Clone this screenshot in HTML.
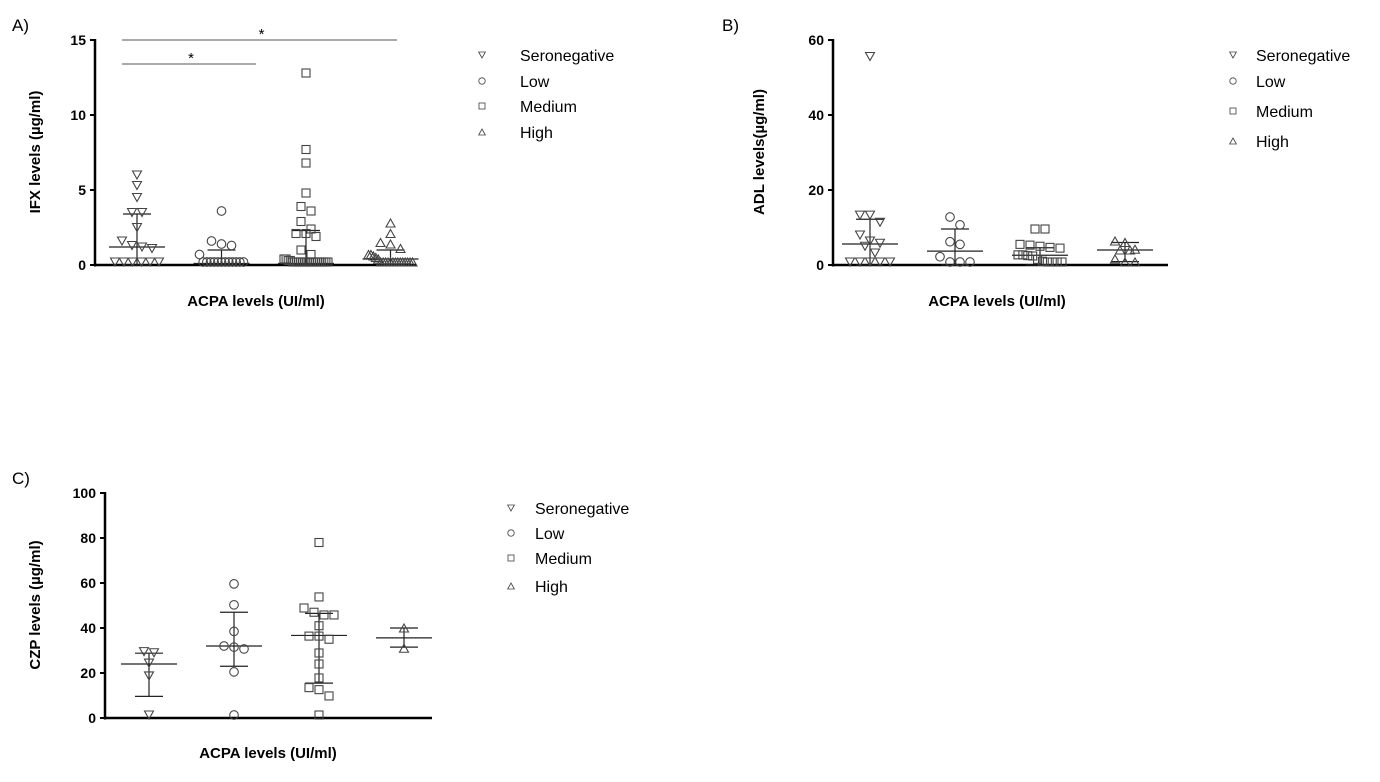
<!DOCTYPE html>
<html><head><meta charset="utf-8">
<style>
html,body{margin:0;padding:0;background:#fff;}
svg{display:block;font-family:"Liberation Sans",Arial,sans-serif;}
</style></head>
<body>
<svg id="fig" width="1380" height="782" viewBox="0 0 1380 782"></svg>
<script>
const categories = ["Seronegative","Low","Medium","High"];
// Panel A (IFX)
const ifxSero = [6.0,5.3,4.5,3.5,3.5,2.5,1.6,1.3,1.2,1.1,0.2,0.2,0,0,0,0];
const ifxLow = [3.6,1.6,1.4,1.3,0.7,0.2,0.2,0,0,0,0,0,0,0,0,0,0];
const ifxMed = [12.8,7.7,6.8,4.8,3.9,3.6,2.9,2.4,2.1,2.1,1.9,1.0,0.7,0.4,0.4,0.3,0.3,0,0,0,0,0,0,0,0,0,0,0,0,0,0,0,0,0,0];
const ifxHigh = [2.8,2.1,1.5,1.4,1.1,0.7,0.7,0.6,0.5,0.4,0.2,0.2,0,0,0,0,0,0,0,0,0,0,0,0];
const ifxCenter = [1.2,0.1,0.1,0.4];
const ifxUpper = [3.4,1.0,2.3,1.0];
const ifxLower = [0,0,0,0];
const ifxTicks = [0,5,10,15];
// Panel B (ADL)
const adlSero = [55.6,13.3,13.3,11.4,8.0,6.4,5.8,5.0,3.2,0.6,0.4,0.2,0,0];
const adlLow = [12.8,10.7,6.2,5.5,2.2,0.3,0,0];
const adlMed = [9.6,9.6,5.5,5.3,5.0,4.7,4.5,2.7,2.7,2.5,2.4,1.5,1.0,0.5,0,0,0];
const adlHigh = [6.4,6.0,4.2,4.0,4.0,1.6,0.3,0.3];
const adlCenter = [5.6,3.7,2.6,4.0];
const adlUpper = [12.2,9.6,4.6,6.0];
const adlLower = [0,0,0,0.9];
const adlTicks = [0,20,40,60];
// Panel C (CZP)
const czpSero = [29.5,29.0,24.4,18.7,1.3];
const czpLow = [59.6,50.3,38.5,32.0,31.5,30.7,20.5,1.0];
const czpMed = [78,53.8,48.9,47,45.8,45.8,41,36.4,36.4,35,28.9,24,17.8,12.6,13.5,9.8,1.0];
const czpHigh = [40,31];
const czpCenter = [24,32,36.7,35.6];
const czpUpper = [28.8,47,46.5,40];
const czpLower = [9.6,23,15.5,31.5];
const czpTicks = [0,20,40,60,80,100];
const legendLabels = ["Seronegative","Low","Medium","High"];

const NS="http://www.w3.org/2000/svg";
const svg=document.getElementById('fig');
function mk(tag,attrs,parent,text){const e=document.createElementNS(NS,tag);for(const k in attrs)e.setAttribute(k,attrs[k]);if(text!==undefined)e.textContent=text;(parent||svg).appendChild(e);return e;}

function marker(g,kind,x,y,col){
  let e;
  if(kind===0) e=mk('polygon',{points:`${x-4.5},${y-4} ${x+4.5},${y-4} ${x},${y+4}`,fill:'none',stroke:col,'stroke-width':1.1},g);
  else if(kind===1) e=mk('circle',{cx:x,cy:y,r:4.3,fill:'none',stroke:col,'stroke-width':1.1},g);
  else if(kind===2) e=mk('rect',{x:x-4,y:y-4,width:8,height:8,fill:'none',stroke:col,'stroke-width':1.1},g);
  else e=mk('polygon',{points:`${x-4.5},${y+4} ${x+4.5},${y+4} ${x},${y-4}`,fill:'none',stroke:col,'stroke-width':1.1},g);
  return e;
}

function panel(cfg){
  const g=mk('g',{},svg);
  
  
  const yS=v=>cfg.y0-(v-0)/cfg.ymax*(cfg.y0-cfg.y1);
  const xS=i=>cfg.cx0+i*cfg.dx;
  const ya=mk('line',{x1:cfg.ax,y1:cfg.y1-1,x2:cfg.ax,y2:cfg.y0+1.5,stroke:'#000','stroke-width':2.5},g);
  
  const xa=mk('line',{x1:cfg.ax-1,y1:cfg.y0,x2:cfg.xend,y2:cfg.y0,stroke:'#000','stroke-width':2.5},g);
  
  cfg.ticks.forEach(t=>{
    const y=yS(t);
    mk('line',{x1:cfg.ax-5,y1:y,x2:cfg.ax,y2:y,stroke:'#000','stroke-width':2},g);
    const tl=mk('text',{x:cfg.ax-9,y:y+5,'text-anchor':'end','font-size':14,'font-weight':'bold'},g,String(t));
    
  });
  const yt=mk('text',{x:0,y:0,transform:`translate(${cfg.ytx},${cfg.yty}) rotate(-90)`,'text-anchor':'middle','font-size':15,'font-weight':'bold'},g,cfg.ytitle);
  
  const xt=mk('text',{x:cfg.xtx,y:cfg.xty,'text-anchor':'middle','font-size':15,'font-weight':'bold'},g,'ACPA levels (UI/ml)');
  
  const pl=mk('text',{x:cfg.plx,y:cfg.ply,'font-size':17},g,cfg.plabel);
  
  cfg.series.forEach((vals,i)=>{
    const cx=xS(i);
    const sg=mk('g',{},g);
    
    
    const c=yS(cfg.center[i]),u=yS(cfg.upper[i]),l=yS(cfg.lower[i]);
    mk('line',{x1:cx,y1:u,x2:cx,y2:l,stroke:'#222','stroke-width':1.2},sg);
    mk('line',{x1:cx-28,y1:c,x2:cx+28,y2:c,stroke:'#222','stroke-width':1.2},sg);
    mk('line',{x1:cx-14,y1:u,x2:cx+14,y2:u,stroke:'#222','stroke-width':1.2},sg);
    mk('line',{x1:cx-14,y1:l,x2:cx+14,y2:l,stroke:'#222','stroke-width':1.2},sg);
    // row-based swarm: group points into rows of similar y, spread evenly within capped width
    const pts=vals.map(v=>Math.min(yS(v),cfg.y0-3)).sort((a,b)=>a-b);
    const rows=[];
    pts.forEach(y=>{
      const r=rows.find(r=>Math.abs(r[0]-y)<8.5);
      if(r) r.push(y); else rows.push([y]);
    });
    rows.forEach(r=>{
      const n=r.length;
      const sp=n>1?Math.min(10,2*cfg.maxw/(n-1)):0;
      r.forEach((y,k)=>{
        const off=(k-(n-1)/2)*sp;
        const m=marker(sg,i,cx+off,y,'#444');
        
        
      });
    });
  });
  legendLabels.forEach((lab,i)=>{
    const y=cfg.legY[i];
    const lg=mk('g',{},g);
    
    
    const m=marker(lg,i,cfg.legX,y,'#444');
    m.setAttribute('transform',`translate(${cfg.legX},${y}) scale(0.75) translate(${-cfg.legX},${-y})`);
    mk('text',{x:cfg.legX+cfg.legGap,y:y+6,'font-size':16},lg,lab);
  });
}

panel({name:'panel-a-ifx',ax:95,y0:265,y1:40,ymax:15,xend:416,cx0:137,dx:84.5,maxw:22,ticks:ifxTicks,
  series:[ifxSero,ifxLow,ifxMed,ifxHigh],center:ifxCenter,upper:ifxUpper,lower:ifxLower,
  ytitle:'IFX levels (µg/ml)',ytx:40,yty:152,xtx:256,xty:306,plabel:'A)',plx:12,ply:31,
  legX:482,legGap:38,legY:[55,81,106,132]});
panel({name:'panel-b-adl',ax:833,y0:265,y1:40,ymax:60,xend:1168,cx0:870,dx:85,maxw:22,ticks:adlTicks,
  series:[adlSero,adlLow,adlMed,adlHigh],center:adlCenter,upper:adlUpper,lower:adlLower,
  ytitle:'ADL levels(µg/ml)',ytx:764,yty:152,xtx:997,xty:306,plabel:'B)',plx:722,ply:31,
  legX:1233,legGap:23,legY:[55,81,111,141]});
panel({name:'panel-c-czp',ax:105,y0:718,y1:493,ymax:100,xend:432,cx0:149,dx:85,maxw:22,ticks:czpTicks,
  series:[czpSero,czpLow,czpMed,czpHigh],center:czpCenter,upper:czpUpper,lower:czpLower,
  ytitle:'CZP levels (µg/ml)',ytx:40,yty:605,xtx:268,xty:758,plabel:'C)',plx:12,ply:484,
  legX:511,legGap:24,legY:[508,533,558,586]});

[[122,397,40,'sig-bar-seroneg-high'],[122,256,64,'sig-bar-seroneg-medium']].forEach(b=>{
  const g=mk('g',{},svg);
  
  
  mk('line',{x1:b[0],y1:b[2],x2:b[1],y2:b[2],stroke:'#555','stroke-width':1},g);
  mk('text',{x:(b[0]+b[1])/2+2,y:b[2]-1,'text-anchor':'middle','font-size':15},g,'*');
});
</script>
</body></html>
